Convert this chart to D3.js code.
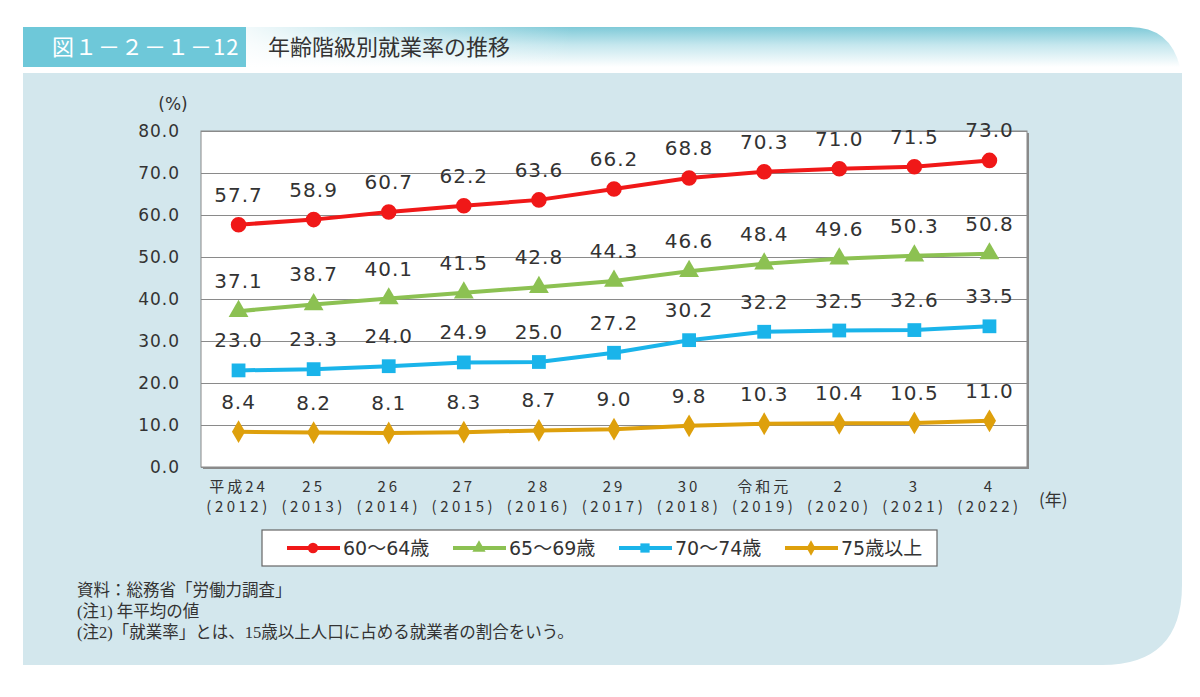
<!DOCTYPE html>
<html>
<head>
<meta charset="utf-8">
<script src="https://cdn.jsdelivr.net/npm/d3@7"></script>
<style>
  body { margin: 0; background: #fff; }
  text { font-family: "DejaVu Sans", "Noto Sans CJK JP", sans-serif; }
  .jp { font-family: "Noto Sans CJK JP", sans-serif; }
  .note { font-family: "Liberation Serif", "Noto Sans CJK JP", serif; }
</style>
</head>
<body>
<div id="chart"></div>
<script>
// data
var years = ["2012", "2013", "2014", "2015", "2016", "2017", "2018", "2019", "2020", "2021", "2022"];
var eraLabels = ["平成24", "25", "26", "27", "28", "29", "30", "令和元", "2", "3", "4"];
var seriesNames = ["60～64歳", "65～69歳", "70～74歳", "75歳以上"];
var age60 = [57.7, 58.9, 60.7, 62.2, 63.6, 66.2, 68.8, 70.3, 71.0, 71.5, 73.0];
var age65 = [37.1, 38.7, 40.1, 41.5, 42.8, 44.3, 46.6, 48.4, 49.6, 50.3, 50.8];
var age70 = [23.0, 23.3, 24.0, 24.9, 25.0, 27.2, 30.2, 32.2, 32.5, 32.6, 33.5];
var age75 = [8.4, 8.2, 8.1, 8.3, 8.7, 9.0, 9.8, 10.3, 10.4, 10.5, 11.0];
var yTicks = [0, 10, 20, 30, 40, 50, 60, 70, 80];

var colors = ["#f01818", "#8cc152", "#1ab4ea", "#dea00c"];
var symbols = [d3.symbolCircle, d3.symbolTriangle, d3.symbolSquare, d3.symbolDiamond];
var symSizes = [190, 170, 190, 150];

var svgWidth = 1200, svgHeight = 697;
var svg = d3.select("#chart").append("svg")
  .attr("width", svgWidth)
  .attr("height", svgHeight);

var defs = svg.append("defs");
var vg = defs.append("linearGradient").attr("id", "bandV")
  .attr("x1", 0).attr("y1", 0).attr("x2", 0).attr("y2", 1);
vg.append("stop").attr("offset", "0%").attr("stop-color", "#7fcad8");
vg.append("stop").attr("offset", "45%").attr("stop-color", "#c5e7ee");
vg.append("stop").attr("offset", "100%").attr("stop-color", "#ffffff");
var hg = defs.append("linearGradient").attr("id", "bandH")
  .attr("x1", 0).attr("y1", 0).attr("x2", 1).attr("y2", 0);
hg.append("stop").attr("offset", "0%").attr("stop-color", "#fff").attr("stop-opacity", 0.9);
hg.append("stop").attr("offset", "35%").attr("stop-color", "#fff").attr("stop-opacity", 0);

// header band
var bx = 246, by = 27, bw = 1180 - 246, bh = 40, br = 50;
svg.append("path")
  .attr("d", `M${bx},${by} H${bx + bw - br} Q${bx + bw - 10},${by} ${bx + bw},${by + bh} H${bx} Z`)
  .attr("fill", "url(#bandV)");
svg.append("rect")
  .attr("x", bx).attr("y", by).attr("width", bw).attr("height", bh)
  .attr("fill", "url(#bandH)");
svg.append("rect")
  .attr("x", 23).attr("y", 27).attr("width", 223).attr("height", 40)
  .attr("fill", "#6ec8d9");
svg.append("text")
  .attr("class", "jp")
  .attr("x", 52).attr("y", 55)
  .attr("fill", "#fff").attr("font-size", 22).attr("letter-spacing", "1px")
  .text("図１－２－１－12");
svg.append("text")
  .attr("class", "jp")
  .attr("x", 268).attr("y", 55)
  .attr("fill", "#333").attr("font-size", 22)
  .text("年齢階級別就業率の推移");

// panel
var px = 23, py = 73, pw = 1182 - 23, ph = 665 - 73, pr = 80;
svg.append("path")
  .attr("d", `M${px},${py} H${px + pw} V${py + ph - pr} Q${px + pw},${py + ph} ${px + pw - pr},${py + ph} H${px} Z`)
  .attr("fill", "#d3e7ed");

// chart
var margin = { top: 131, left: 201 };
var width = 1027 - 201;
var height = 467 - 131;

var chartGroup = svg.append("g")
  .attr("transform", `translate(${margin.left}, ${margin.top})`);

var xScale = d3.scaleBand().domain(years).range([0, width]);
var yScale = d3.scaleLinear().domain([0, 80]).range([height, 0]);

chartGroup.append("rect")
  .attr("x", 2).attr("y", 2).attr("width", width).attr("height", height)
  .attr("fill", "#8a8a8a");
chartGroup.append("rect")
  .attr("width", width).attr("height", height)
  .attr("fill", "#fff").attr("stroke", "#888").attr("stroke-width", 1);

// grid + y labels
var leftAxis = d3.axisLeft(yScale).tickValues(yTicks).tickSize(-width).tickPadding(21)
  .tickFormat(d3.format(".1f"));
var yAxis = chartGroup.append("g").call(leftAxis);
yAxis.select(".domain").remove();
yAxis.selectAll(".tick line").attr("stroke", "#8a8a8a").attr("stroke-width", 1.2);
yAxis.selectAll(".tick text")
  .attr("fill", "#333").attr("font-size", 17).attr("letter-spacing", "1px")
  .style("font-family", "'DejaVu Sans', sans-serif");

chartGroup.append("text")
  .attr("x", -28).attr("y", -21)
  .attr("text-anchor", "middle").attr("fill", "#333").attr("font-size", 17)
  .text("(%)");

// x labels
var bottomAxis = d3.axisBottom(xScale).tickSize(0).tickFormat("");
var xAxis = chartGroup.append("g").attr("transform", `translate(0, ${height})`).call(bottomAxis);
xAxis.select(".domain").remove();
xAxis.selectAll(".tick").each(function(d, i) {
  var t = d3.select(this);
  t.append("text").attr("y", 25).attr("text-anchor", "middle")
    .attr("fill", "#333").attr("font-size", 15).attr("letter-spacing", "3px")
    .style("font-family", "'Noto Sans CJK JP', sans-serif")
    .text(eraLabels[i]);
  t.append("text").attr("y", 45).attr("text-anchor", "middle")
    .attr("fill", "#333").attr("font-size", 15).attr("letter-spacing", "3.5px")
    .style("font-family", "'Noto Sans CJK JP', sans-serif")
    .text("(" + d + ")");
});
chartGroup.append("text")
  .attr("class", "jp")
  .attr("x", width + 12).attr("y", height + 39)
  .attr("fill", "#333").attr("font-size", 17)
  .text("(年)");

// series
var allSeries = [age60, age65, age70, age75];
var line = d3.line()
  .x((d, i) => xScale(years[i]) + xScale.bandwidth() / 2)
  .y(d => yScale(d));

allSeries.forEach(function(values, s) {
  chartGroup.append("path")
    .datum(values)
    .attr("d", line)
    .attr("fill", "none")
    .attr("stroke", colors[s])
    .attr("stroke-width", 4);

  chartGroup.selectAll(".pt" + s)
    .data(values)
    .enter().append("path")
    .attr("class", "pt" + s)
    .attr("d", d3.symbol().type(symbols[s]).size(symSizes[s]))
    .attr("transform", (d, i) => `translate(${xScale(years[i]) + xScale.bandwidth() / 2}, ${yScale(d)})`)
    .attr("fill", colors[s]);

  chartGroup.selectAll(".lbl" + s)
    .data(values)
    .enter().append("text")
    .attr("class", "lbl" + s)
    .attr("x", (d, i) => xScale(years[i]) + xScale.bandwidth() / 2)
    .attr("y", d => yScale(d) - 23)
    .attr("text-anchor", "middle")
    .attr("fill", "#333")
    .attr("font-size", 20)
    .attr("letter-spacing", "1px")
    .text(d => d.toFixed(1));
});

// legend
var legend = svg.append("g");
legend.append("rect")
  .attr("x", 262).attr("y", 530).attr("width", 675).attr("height", 36)
  .attr("fill", "#fff").attr("stroke", "#666").attr("stroke-width", 1.2);
seriesNames.forEach(function(name, s) {
  var lx = 287 + s * 166;
  legend.append("line")
    .attr("x1", lx).attr("x2", lx + 53).attr("y1", 548).attr("y2", 548)
    .attr("stroke", colors[s]).attr("stroke-width", 4);
  legend.append("path")
    .attr("d", d3.symbol().type(symbols[s]).size(symSizes[s] * 0.45))
    .attr("transform", `translate(${lx + 26}, 548)`)
    .attr("fill", colors[s]);
  legend.append("text")
    .attr("x", lx + 56).attr("y", 555)
    .attr("fill", "#333").attr("font-size", 19)
    .text(name);
});

// notes
var notes = ["資料：総務省「労働力調査」", "(注1) 年平均の値", "(注2)「就業率」とは、15歳以上人口に占める就業者の割合をいう。"];
svg.selectAll(".note")
  .data(notes)
  .enter().append("text")
  .attr("class", "note")
  .attr("x", 77)
  .attr("y", (d, i) => 596 + i * 21)
  .attr("fill", "#333")
  .attr("font-size", 16.5)
  .text(d => d);
</script>
</body>
</html>
